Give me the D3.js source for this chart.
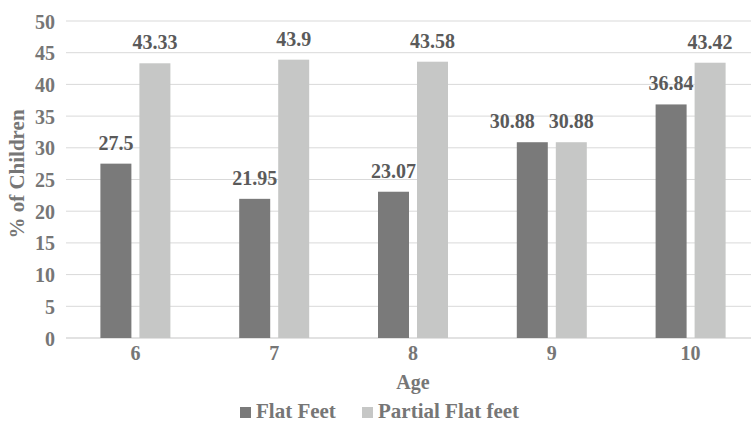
<!DOCTYPE html>
<html><head><meta charset="utf-8">
<script src="https://cdn.jsdelivr.net/npm/d3@7"></script>
<style>body{margin:0;background:#fff}svg{display:block}
svg text{font-family:"Liberation Serif","Times New Roman",Times,serif;font-weight:bold}</style>
</head><body>
<svg id="c" width="751" height="422"></svg>
<script>
const categories = ["6","7","8","9","10"];
const flatFeet = [27.5, 21.95, 23.07, 30.88, 36.84];
const partialFlatFeet = [43.33, 43.9, 43.58, 30.88, 43.42];
const seriesNames = ["Flat Feet", "Partial Flat feet"];
const yTicks = [0,5,10,15,20,25,30,35,40,45,50];

const colors = ["#7a7a7a", "#c6c7c6"];
const svg = d3.select("#c");
const x0 = d3.scaleBand().domain(categories).range([66, 760]).paddingInner(0).paddingOuter(0);
const y = d3.scaleLinear().domain([0, 50]).range([338, 21]);
const barW = 31, gap = 8;

// gridlines
svg.append("g").selectAll("line").data(yTicks).join("line")
  .attr("x1", 66).attr("x2", 760)
  .attr("y1", d => y(d)).attr("y2", d => y(d))
  .attr("stroke", "#d9d9d9").attr("stroke-width", d => d === 0 ? 1.5 : 1);

// y axis labels
const yAxis = d3.axisLeft(y).tickValues(yTicks).tickSize(0).tickPadding(0);
const ga = svg.append("g").attr("transform", "translate(55,0)").call(yAxis);
ga.select(".domain").remove();
ga.selectAll("text").style("font-size", "20px").attr("fill", "#767676").attr("dy", "0.35em");

// x axis labels
const xAxis = d3.axisBottom(x0).tickSize(0).tickPadding(0);
const gx = svg.append("g").attr("transform", "translate(0,345)").call(xAxis);
gx.select(".domain").remove();
gx.selectAll("text").style("font-size", "20px").attr("fill", "#767676").attr("dy", "0.75em");
svg.selectAll("g").attr("font-family", null).attr("font-size", null);

const series = [flatFeet, partialFlatFeet];
const offsets = [-(barW + gap/2), gap/2];
const labelSel = [];
series.forEach((vals, si) => {
  const g = svg.append("g");
  g.selectAll("rect").data(vals).join("rect")
    .attr("x", (d, i) => x0(categories[i]) + x0.bandwidth()/2 + offsets[si])
    .attr("y", d => y(d)).attr("width", barW)
    .attr("height", d => y(0) - y(d)).attr("fill", colors[si]);
  labelSel.push(g.selectAll("text").data(vals).join("text")
    .attr("x", (d, i) => x0(categories[i]) + x0.bandwidth()/2 + offsets[si] + barW/2)
    .attr("y", d => y(d) - 14)
    .attr("text-anchor", "middle").style("font-size", "20px").attr("fill", "#5a5a5a").text(d => d));
});
// avoid overlap of labels at similar heights: shift the left label left
const leftNodes = labelSel[0].nodes(), rightNodes = labelSel[1].nodes();
leftNodes.forEach((ln, i) => {
  const a = ln.getBBox(), b = rightNodes[i].getBBox();
  const vOverlap = a.y < b.y + b.height && b.y < a.y + a.height;
  const need = a.x + a.width + 14 - b.x;
  if (vOverlap && need > 0) d3.select(ln).attr("x", +d3.select(ln).attr("x") - need);
});

// axis titles
svg.append("text").attr("x", 413).attr("y", 389).attr("text-anchor", "middle")
  .style("font-size", "20px").attr("fill", "#767676").text("Age");
svg.append("text").attr("transform", "translate(24,174) rotate(-90)").attr("text-anchor", "middle")
  .style("font-size", "21px").attr("fill", "#767676").text("% of Children");

// legend
const legX = [240, 362];
seriesNames.forEach((n, i) => {
  svg.append("rect").attr("x", legX[i]).attr("y", 407).attr("width", 11).attr("height", 11).attr("fill", colors[i]);
  svg.append("text").attr("x", legX[i] + 16).attr("y", 418)
    .style("font-size", "21px").attr("fill", "#767676").text(n);
});
</script>
</body></html>
